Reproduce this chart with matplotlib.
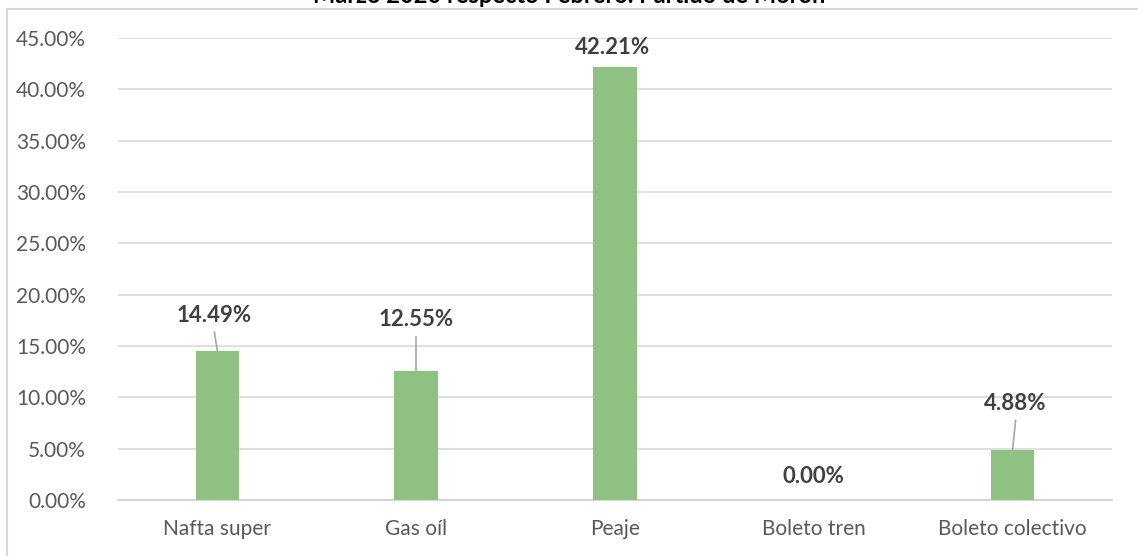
import matplotlib.pyplot as plt
from matplotlib.patches import Rectangle
from matplotlib.ticker import FuncFormatter

# data
categories = ["Nafta super", "Gas oíl", "Peaje", "Boleto tren", "Boleto colectivo"]
values = [14.49, 12.55, 42.21, 0.00, 4.88]
# where Excel placed each data label (x offset in categories, y in %)
label_dx = [-0.015, 0.0, -0.015, 0.0, 0.015]
label_y = [18.0, 17.55, 44.05, 2.3, 9.4]
has_leader = [True, True, False, False, True]
yticks = [0, 5, 10, 15, 20, 25, 30, 35, 40, 45]

title = "Marzo 2020 respecto Febrero. Partido de Morón"

plt.rcParams['font.family'] = ['Lato', 'DejaVu Sans']

W, H = 1138, 556
fig = plt.figure(figsize=(W / 100, H / 100), dpi=100)
ax = fig.add_axes([118 / W, 1 - 500 / H, (1112 - 118) / W, (500 - 38) / H])

x = list(range(len(categories)))
ax.bar(x, values, width=0.22, color="#8FC183", zorder=3)

ax.set_xlim(-0.5, len(categories) - 0.5)
ax.set_ylim(0, 45)
ax.set_yticks(yticks)
ax.yaxis.set_major_formatter(FuncFormatter(lambda v, p: f"{v:.2f}%"))
ax.set_xticks(x)
ax.set_xticklabels(categories)
ax.tick_params(axis="both", length=0, labelsize=15, colors="#595959")
ax.tick_params(axis="y", pad=23)
ax.tick_params(axis="x", pad=14)
ax.grid(axis="y", color="#D9D9D9", linewidth=1.2, zorder=0)
for s in ["top", "right", "left"]:
    ax.spines[s].set_visible(False)
ax.spines["bottom"].set_color("#D0D0D0")
ax.spines["bottom"].set_linewidth(1.2)

for i, v in enumerate(values):
    lx = i + label_dx[i]
    ax.text(lx, label_y[i], f"{v:.2f}%", ha="center", va="center",
            fontsize=16, fontweight="bold", color="#404040", zorder=4)
    if has_leader[i]:
        ax.plot([lx, i], [label_y[i] - 1.65, v], color="#A6A6A6",
                linewidth=1.2, zorder=4)

# chart border (right and bottom edges lie outside the image)
fig.patches.append(Rectangle((7 / W, -0.1), 1.2, 1 - 9 / H + 0.1,
                             transform=fig.transFigure, fill=False,
                             edgecolor="#D9D9D9", linewidth=1.5))

fig.text(0.5, 1 - 3 / H, title, ha="center", va="baseline",
         fontsize=17, fontweight="bold", color="#000000")

fig.savefig("out.png", dpi=100)
